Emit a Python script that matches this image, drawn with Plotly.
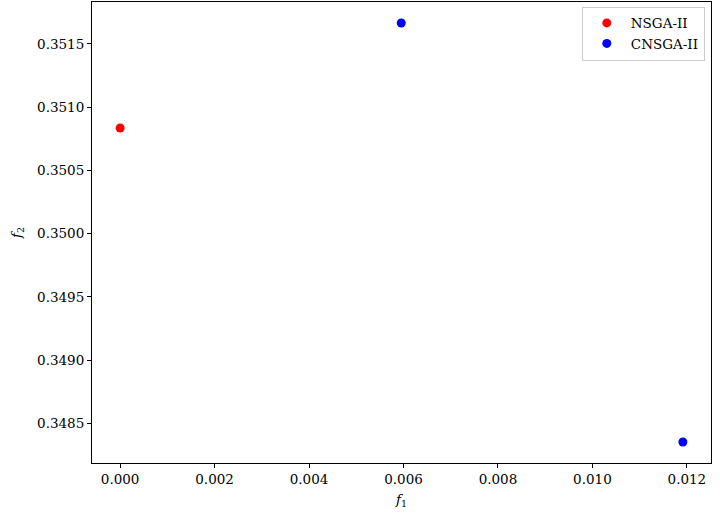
import plotly.graph_objects as go

# objective values
nsga_f1 = [0.0]
nsga_f2 = [0.350835]
cnsga_f1 = [0.005952, 0.011915]
cnsga_f2 = [0.351666, 0.348352]

xticks = [0.000, 0.002, 0.004, 0.006, 0.008, 0.010, 0.012]
yticks = [0.3485, 0.3490, 0.3495, 0.3500, 0.3505, 0.3510, 0.3515]

font = dict(family="DejaVu Serif, serif", size=13.5, color="black")

fig = go.Figure()
fig.add_trace(go.Scatter(x=nsga_f1, y=nsga_f2, mode="markers", name="NSGA-II",
                         marker=dict(color="red", size=9)))
fig.add_trace(go.Scatter(x=cnsga_f1, y=cnsga_f2, mode="markers", name="CNSGA-II",
                         marker=dict(color="blue", size=9)))

axis = dict(showgrid=False, zeroline=False, showline=True, linecolor="black",
            linewidth=1, mirror=True, ticks="outside", ticklen=4,
            tickcolor="black", tickfont=font)

all_x = nsga_f1 + cnsga_f1
all_y = nsga_f2 + cnsga_f2
mx = (max(all_x) - min(all_x)) * 0.05
my = (max(all_y) - min(all_y)) * 0.05

fig.update_layout(
    width=720, height=520,
    margin=dict(l=92, r=9, t=2, b=57),
    plot_bgcolor="white", paper_bgcolor="white",
    font=font,
    showlegend=True,
    legend=dict(x=0.99, y=0.99, xanchor="right", yanchor="top",
                bgcolor="white", bordercolor="#cccccc", borderwidth=1,
                font=font, itemwidth=38, tracegroupgap=0),
    xaxis=dict(axis, range=[min(all_x) - mx, max(all_x) + mx],
               tickvals=xticks, tickformat=".3f",
               title=dict(text="<i>f</i><sub>1</sub>", font=font, standoff=8)),
    yaxis=dict(axis, range=[min(all_y) - my, max(all_y) + my],
               tickvals=yticks, tickformat=".4f",
               title=dict(text="<i>f</i><sub>2</sub>", font=font, standoff=12)),
)

# drop the default page margin so the 720x520 figure fills the window
fig.write_html("out.html", config={"displayModeBar": False},
               post_script="document.body.style.margin='0';")
